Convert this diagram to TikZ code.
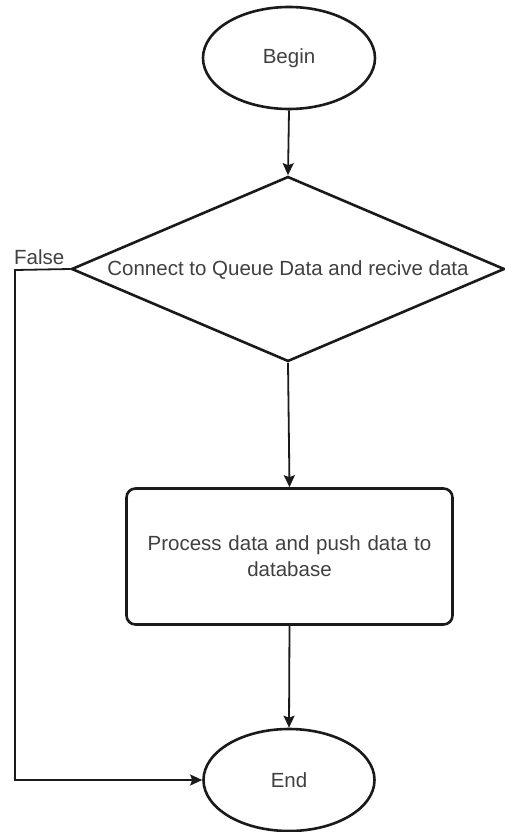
\documentclass[tikz,border=0pt]{standalone}
\usepackage{fontspec}
\setmainfont{Liberation Sans}
\usetikzlibrary{shapes.geometric,arrows.meta}
\definecolor{linec}{HTML}{1A1A1A}
\definecolor{textc}{HTML}{404040}
\tikzset{
  shapeline/.style={draw=linec, line width=2.6pt},
  txt/.style={text=textc, font=\fontsize{20.5}{26}\selectfont, inner sep=0pt, align=center},
  arr/.style={draw=linec, line width=1.8pt, -{Stealth[length=12pt,width=11pt,inset=2pt]}},
}
\begin{document}
\begin{tikzpicture}[x=1pt,y=-1pt]
\useasboundingbox (0,0) rectangle (505,832);
\node[ellipse, shapeline, minimum width=172pt, minimum height=102pt, inner sep=0pt] (begin) at (289,58) {};
\node[txt] (begintxt) at (begin) {Begin};
\node[diamond, shapeline, minimum width=433pt, minimum height=185pt, inner sep=0pt] (dec) at (288,269) {};
\node[txt] (dectxt) at (288,270) {Connect to Queue Data and recive data};
\node[rectangle, rounded corners=9pt, shapeline, minimum width=326pt, minimum height=136pt, inner sep=0pt] (proc) at (289.5,556.5) {};
\node[txt, text width=320pt] (proctxt) at (289.5,556) {Process data and push data to\\database};
\node[ellipse, shapeline, minimum width=171pt, minimum height=102pt, inner sep=0pt] (end) at (289,780) {};
\node[txt] (endtxt) at (end) {End};
\coordinate (fcorner) at (15,270);
\node[txt, anchor=base west] (falsetxt) at (14,264) {False};
\draw[arr] (begin.south) -- (dec.north);
\draw[arr] (dec.south) -- (proc.north);
\draw[arr] (proc.south) -- (end.north);
\draw[arr] (dec.west) -- (fcorner) |- (end.west);
\end{tikzpicture}
\end{document}
